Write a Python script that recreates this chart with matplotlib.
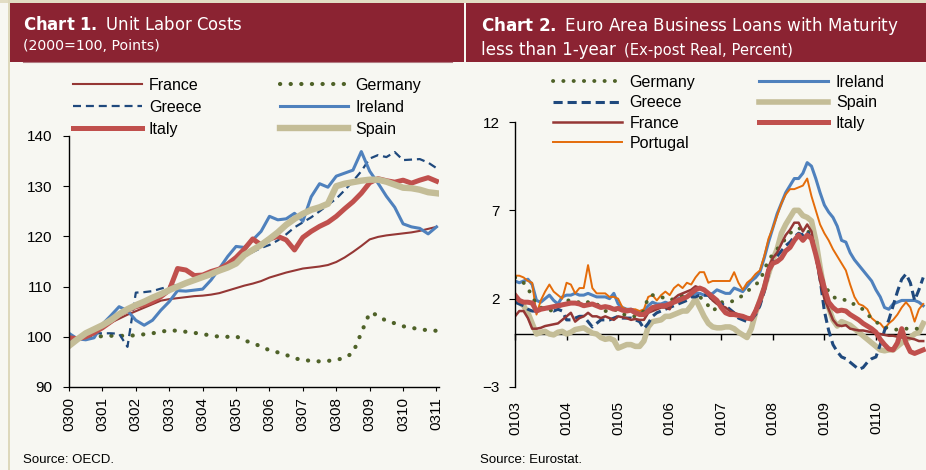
import matplotlib.pyplot as plt
from matplotlib.patches import Rectangle
import numpy as np

# ---- Chart 1: unit labor costs, quarterly, 2000=100 ----
ulc_ticks = ["0300", "0301", "0302", "0303", "0304", "0305",
             "0306", "0307", "0308", "0309", "0310", "0311"]
france_ulc = [99.0, 99.5, 100.0, 100.5, 101.8, 102.8, 103.6, 104.4, 105.1, 105.8,
              106.5, 107.2, 107.5, 107.7, 107.9, 108.1, 108.2, 108.4, 108.7, 109.2,
              109.7, 110.2, 110.6, 111.1, 111.8, 112.3, 112.8, 113.2, 113.6, 113.8,
              114.0, 114.3, 114.9, 115.8, 116.9, 118.1, 119.4, 119.9, 120.2, 120.4,
              120.6, 120.8, 121.1, 121.5, 121.9]
germany_ulc = [99.6, 99.9, 100.0, 100.1, 100.1, 100.2, 100.2, 100.2, 100.3, 100.5,
               100.7, 101.0, 101.3, 101.2, 101.0, 100.8, 100.5, 100.3, 100.0, 100.0,
               100.1, 99.3, 98.7, 98.1, 97.3, 96.9, 96.4, 95.7, 95.4, 95.2,
               95.1, 95.2, 95.4, 95.8, 96.8, 100.8, 104.8, 104.3, 103.1, 102.7,
               102.1, 101.8, 101.5, 101.3, 101.2]
greece_ulc = [99.4, 99.9, 100.3, 100.7, 100.7, 100.7, 100.6, 98.0, 108.8, 108.9,
              109.1, 109.6, 110.0, 110.3, 110.7, 111.2, 112.0, 112.7, 113.4, 114.2,
              115.1, 116.0, 116.9, 117.7, 118.3, 119.2, 120.4, 121.8, 122.8, 123.8,
              125.0, 126.3, 127.5, 129.2, 131.0, 133.0, 135.5, 136.2, 135.8, 136.8,
              135.2, 135.3, 135.4, 134.7, 133.6]
ireland_ulc = [100.7, 99.6, 99.4, 99.8, 102.5, 104.2, 106.0, 105.2, 103.3, 102.3,
               103.3, 105.3, 107.0, 109.2, 109.1, 109.3, 109.5, 111.3, 113.6, 116.0,
               118.0, 117.8, 119.3, 121.0, 124.0, 123.3, 123.5, 124.6, 123.0, 127.9,
               130.5, 129.8, 132.0, 132.6, 133.2, 136.9, 133.0, 130.6, 128.0, 125.8,
               122.5, 121.9, 121.6, 120.5, 121.9]
italy_ulc = [99.8, 99.6, 100.0, 100.8, 101.8, 103.0, 104.3, 105.3, 106.0, 106.4,
             107.0, 108.0, 109.3, 113.6, 113.3, 112.2, 112.3, 113.0, 113.5, 114.5,
             115.8, 117.5, 119.5, 118.3, 119.5, 120.0, 119.3, 117.3, 119.8, 121.0,
             122.0, 122.8, 124.0, 125.5, 126.9, 128.6, 130.7, 131.5, 131.1, 130.8,
             131.2, 130.6, 131.2, 131.7, 131.0]
spain_ulc = [98.2, 99.5, 100.7, 101.5, 102.3, 103.3, 104.5, 105.5, 106.3, 107.0,
             107.8, 108.5, 109.3, 110.0, 110.7, 111.3, 111.9, 112.5, 113.2, 113.8,
             114.6, 116.3, 117.3, 118.3, 119.5, 120.8, 122.3, 123.5, 124.5, 125.3,
             125.8, 126.5, 130.0, 130.5, 130.8, 131.1, 131.3, 131.3, 130.9, 130.3,
             129.7, 129.6, 129.3, 128.8, 128.6]

# ---- Chart 2: real rates on short business loans, monthly, percent ----
loan_ticks = ["0103", "0104", "0105", "0106", "0107", "0108", "0109", "0110"]
germany_loan = [3.2, 3.1, 2.9, 2.6, 2.1, 1.7, 1.5, 1.4, 1.3, 1.4, 1.5, 1.7,
                1.9, 1.9, 1.8, 1.8, 1.9, 1.8, 1.7, 1.7, 1.5, 1.3, 1.3, 1.4,
                1.3, 1.1, 1.1, 1.0, 1.0, 1.1, 1.3, 2.1, 2.2, 2.2, 2.1, 2.0,
                1.9, 2.0, 2.1, 2.2, 2.3, 2.3, 2.2, 2.1, 1.9, 1.6, 1.3, 1.5,
                1.8, 1.8, 1.8, 1.9, 2.0, 2.2, 2.4, 2.6, 2.8, 3.0, 3.6, 4.2,
                4.5, 4.8, 5.1, 5.4, 5.7, 5.9, 6.0, 5.9, 5.9, 5.5, 4.5, 3.5,
                2.8, 2.4, 2.1, 2.0, 2.0, 1.9, 1.7, 1.7, 1.5, 1.4, 1.1, 0.9,
                0.7, 0.5, 0.4, 0.3, 0.25, 0.25, 0.3, 0.3, 0.3, 0.3, 0.3, 0.3]
greece_loan = [1.8, 1.7, 1.6, 1.4, 1.3, 1.3, 1.4, 1.5, 1.4, 1.3, 1.4, 1.3,
               0.8, 0.8, 0.9, 1.0, 1.0, 0.7, 0.4, 0.6, 0.8, 0.8, 0.8, 0.9,
               1.0, 0.9, 0.9, 0.9, 0.8, 0.7, 0.3, 0.6, 1.0, 1.2, 1.3, 1.4,
               1.5, 1.6, 1.7, 1.8, 1.9, 2.1, 2.1, 2.2, 2.2, 2.2, 1.9, 1.8,
               1.7, 1.6, 1.4, 1.2, 0.9, 0.8, 0.7, 0.8, 1.1, 1.6, 2.4, 3.4,
               4.1, 4.4, 4.7, 5.0, 5.2, 5.5, 5.7, 5.6, 5.8, 5.4, 4.5, 3.1,
               1.3, 0.2, -0.6, -1.0, -1.3, -1.4, -1.6, -1.8, -2.0, -1.9, -1.6, -1.4,
               -1.3, -0.6, 0.2, 0.8, 1.6, 2.4, 3.1, 3.4, 2.9, 1.9, 2.5, 3.2]
france_loan = [1.0, 1.3, 1.3, 0.9, 0.3, 0.3, 0.35, 0.45, 0.5, 0.55, 0.6, 0.8,
               1.0, 1.2, 0.7, 0.9, 1.0, 1.2, 1.0, 1.0, 0.9, 1.0, 0.9, 0.8,
               1.0, 0.95, 0.9, 0.8, 0.85, 0.8, 0.8, 1.2, 1.3, 1.4, 1.5, 1.5,
               1.4, 2.0, 2.2, 2.3, 2.4, 2.5, 2.7, 2.6, 2.5, 2.2, 1.9, 1.7,
               1.6, 1.5, 1.3, 1.2, 1.1, 1.0, 0.95, 0.9, 1.4, 2.0, 2.8, 3.8,
               4.3, 4.6, 5.1, 5.6, 5.9, 6.3, 6.3, 5.8, 6.2, 5.8, 4.4, 3.0,
               2.0, 1.4, 0.8, 0.5, 0.45, 0.5, 0.3, 0.25, 0.2, 0.2, 0.15, 0.1,
               0.05, 0.0, -0.05, -0.1, -0.1, -0.15, -0.2, -0.2, -0.25, -0.3, -0.4, -0.4]
portugal_loan = [3.3, 3.3, 3.2, 3.0, 2.9, 1.1, 1.9, 2.4, 2.8, 2.4, 2.2, 2.0,
                 2.9, 2.8, 2.3, 2.6, 2.6, 3.9, 2.6, 2.3, 2.3, 2.3, 2.1, 2.1,
                 2.0, 1.5, 1.4, 1.4, 1.4, 1.3, 1.4, 2.1, 2.2, 1.9, 2.2, 2.4,
                 2.2, 2.6, 2.8, 2.6, 2.9, 2.8, 3.2, 3.5, 3.5, 2.9, 3.0, 3.0,
                 3.0, 3.0, 3.0, 3.5, 2.9, 2.5, 2.9, 3.1, 3.4, 3.6, 4.4, 5.4,
                 6.0, 6.7, 7.4, 7.9, 8.2, 8.2, 8.3, 8.4, 8.8, 7.8, 7.0, 6.2,
                 5.7, 5.3, 4.8, 4.4, 4.0, 3.6, 2.8, 2.1, 1.7, 1.6, 1.4, 0.9,
                 0.7, 0.6, 0.3, 0.6, 0.8, 1.1, 1.5, 1.8, 1.5, 0.7, 1.4, 1.7]
ireland_loan = [3.0, 2.9, 3.0, 3.1, 2.8, 1.9, 1.8, 2.0, 2.2, 1.9, 1.7, 2.1,
                2.2, 2.2, 2.3, 2.2, 2.2, 2.3, 2.2, 2.1, 2.1, 2.1, 2.0, 2.3,
                1.7, 1.5, 1.4, 1.4, 1.3, 1.2, 1.3, 1.6, 1.8, 1.7, 1.7, 1.8,
                1.7, 1.8, 2.0, 2.1, 2.1, 2.2, 2.3, 2.3, 2.2, 2.2, 2.3, 2.5,
                2.4, 2.3, 2.3, 2.6, 2.5, 2.4, 2.7, 3.0, 3.2, 3.5, 4.3, 5.2,
                6.0, 6.8, 7.4, 8.0, 8.4, 8.8, 8.8, 9.1, 9.7, 9.5, 8.8, 8.0,
                7.3, 6.9, 6.6, 6.1, 5.3, 5.2, 4.6, 4.2, 3.9, 3.6, 3.3, 3.0,
                2.5, 2.1, 1.5, 1.4, 1.7, 1.8, 1.9, 1.9, 1.9, 1.9, 1.8, 1.6]
spain_loan = [1.9, 1.8, 1.6, 1.2, 0.6, 0.0, 0.1, 0.15, 0.0, -0.05, 0.1, 0.15,
              0.0, 0.1, 0.25, 0.3, 0.35, 0.2, 0.05, 0.0, -0.2, -0.3, -0.25, -0.35,
              -0.8, -0.7, -0.6, -0.6, -0.7, -0.7, -0.4, 0.4, 0.7, 0.75, 0.8, 1.0,
              1.0, 1.1, 1.2, 1.3, 1.3, 1.6, 2.0, 1.5, 1.0, 0.6, 0.4, 0.35,
              0.35, 0.4, 0.4, 0.3, 0.1, -0.05, -0.2, 0.3, 1.2, 1.9, 2.6, 3.4,
              4.2, 4.8, 5.7, 6.2, 6.6, 7.0, 7.0, 6.7, 6.6, 6.4, 5.3, 3.8,
              2.4, 1.5, 0.8, 0.45, 0.7, 0.6, 0.5, 0.3, 0.1, -0.1, -0.3, -0.5,
              -0.7, -0.9, -0.95, -0.9, -0.9, -0.7, -0.5, -0.3, -0.2, 0.0, 0.1, 0.6]
italy_loan = [2.2, 1.9, 1.8, 1.8, 1.75, 1.3, 1.4, 1.45, 1.5, 1.55, 1.6, 1.65,
              1.7, 1.75, 1.75, 1.7, 1.6, 1.65, 1.7, 1.6, 1.5, 1.55, 1.5, 1.4,
              1.45, 1.35, 1.3, 1.35, 1.2, 1.1, 1.1, 1.3, 1.5, 1.55, 1.6, 1.6,
              1.7, 1.8, 1.9, 2.0, 2.1, 2.3, 2.5, 2.6, 2.5, 2.3, 2.1, 1.9,
              1.5, 1.2, 1.1, 1.1, 1.05, 1.0, 0.9, 0.85, 1.3, 1.9, 2.6, 3.6,
              4.0, 4.1, 4.3, 4.7, 4.9, 5.3, 5.6, 5.3, 5.6, 5.4, 4.5, 3.5,
              2.6, 1.8, 1.5, 1.3, 1.35, 1.3, 1.1, 0.95, 0.8, 0.6, 0.45, 0.3,
              0.1, -0.3, -0.6, -0.85, -0.9, -0.5, 0.3, -0.5, -1.0, -1.1, -1.0, -0.9]

# colours
bg = '#f7f7f2'
band = '#8b2332'
c_france = '#953735'
c_germany = '#4f6228'
c_greece = '#1f497d'
c_ireland = '#4f81bd'
c_italy = '#c0504d'
c_spain = '#c4bd97'
c_portugal = '#e46c0a'

plt.rcParams['font.family'] = ['Liberation Sans', 'DejaVu Sans']

W, H = 926, 470
fig = plt.figure(figsize=(W / 100, H / 100), dpi=100, facecolor=bg)


def fx(px):
    return px / W


def fy(py):
    return 1 - py / H


# page decoration: beige borders and the two red header bands
fig.add_artist(Rectangle((0, fy(3)), 1, 3 / H, transform=fig.transFigure,
                         color='#e2ddc4', lw=0, zorder=0))
fig.add_artist(Rectangle((fx(7.5), 0), 2.5 / W, 1, transform=fig.transFigure,
                         color='#ddd8bc', lw=0, zorder=0))
fig.add_artist(Rectangle((fx(10), fy(62)), 454 / W, 59 / H, transform=fig.transFigure,
                         color=band, lw=0, zorder=0))
fig.add_artist(Rectangle((fx(466), fy(62)), 460 / W, 59 / H, transform=fig.transFigure,
                         color=band, lw=0, zorder=0))
fig.add_artist(plt.Line2D([fx(23), fx(452)], [fy(62), fy(62)], transform=fig.transFigure,
                          color='#b27a82', lw=0.8))

title_kw = dict(color='white', family='DejaVu Sans', va='baseline')
fig.text(fx(23), fy(30), r'$\bf{Chart\ 1.}$ Unit Labor Costs', size=11.9, **title_kw)
fig.text(fx(23), fy(49.5), '(2000=100, Points)', size=10.2, **title_kw)
fig.text(fx(481), fy(31), r'$\bf{Chart\ 2.}$ Euro Area Business Loans with Maturity',
         size=12.1, **title_kw)
fig.text(fx(481), fy(55), 'less than 1-year', size=12.1, **title_kw)
fig.text(fx(624), fy(55), '(Ex-post Real, Percent)', size=10.6, **title_kw)

fig.text(fx(23), fy(460), 'Source: OECD.', size=9.5, va='center')
fig.text(fx(480), fy(460), 'Source: Eurostat.', size=9.5, va='center')

# ---------------- Chart 1 ----------------
ax1 = fig.add_axes([fx(69), fy(387), 370 / W, 251 / H])
ax1.set_facecolor(bg)
q = np.arange(len(france_ulc))

l_fr, = ax1.plot(q, france_ulc, color=c_france, lw=1.5, label='France')
l_de, = ax1.plot(q, germany_ulc, color=c_germany, lw=3.0,
                 linestyle=(0, (0.05, 2.5)), dash_capstyle='round', label='Germany')
l_gr, = ax1.plot(q, greece_ulc, color=c_greece, lw=1.6,
                 linestyle=(0, (3.6, 2.2)), label='Greece')
l_ie, = ax1.plot(q, ireland_ulc, color=c_ireland, lw=2.2, label='Ireland')
l_it, = ax1.plot(q, italy_ulc, color=c_italy, lw=3.6, label='Italy')
l_es, = ax1.plot(q, spain_ulc, color=c_spain, lw=4.6, label='Spain')

ax1.set_xlim(0, 44.3)
ax1.set_ylim(90, 140)
ax1.set_yticks(np.arange(90, 141, 10))
ax1.set_xticks(np.arange(0, 45, 4))
ax1.set_xticklabels(ulc_ticks, rotation=90)
for s in ['top', 'right']:
    ax1.spines[s].set_visible(False)
for s in ['left', 'bottom']:
    ax1.spines[s].set_linewidth(1)
ax1.tick_params(axis='y', length=4, pad=8, labelsize=11)
ax1.tick_params(axis='x', length=3, pad=4, labelsize=11)

fig.legend([l_fr, l_gr, l_it, l_de, l_ie, l_es],
           ['France', 'Greece', 'Italy', 'Germany', 'Ireland', 'Spain'],
           ncol=2, loc='upper left', bbox_to_anchor=(fx(73), fy(78)),
           frameon=False, fontsize=11.5, borderpad=0, borderaxespad=0,
           handlelength=4.3, handletextpad=0.45, columnspacing=4.9,
           labelspacing=0.43)

# ---------------- Chart 2 ----------------
ax2 = fig.add_axes([fx(515), fy(387), 412.5 / W, 265 / H])
ax2.set_facecolor(bg)
m = np.arange(len(germany_loan))

k_es, = ax2.plot(m, spain_loan, color=c_spain, lw=4.0, label='Spain')
k_ie, = ax2.plot(m, ireland_loan, color=c_ireland, lw=2.2, label='Ireland')
k_pt, = ax2.plot(m, portugal_loan, color=c_portugal, lw=1.4, label='Portugal')
k_de, = ax2.plot(m, germany_loan, color=c_germany, lw=2.8,
                 linestyle=(0, (0.05, 2.6)), dash_capstyle='round', label='Germany')
k_gr, = ax2.plot(m, greece_loan, color=c_greece, lw=2.2,
                 linestyle=(0, (3.0, 1.6)), label='Greece')
k_fr, = ax2.plot(m, france_loan, color=c_france, lw=1.8, label='France')
k_it, = ax2.plot(m, italy_loan, color=c_italy, lw=3.6, label='Italy')

ax2.set_xlim(0, 96)
ax2.set_ylim(-3, 12)
ax2.set_yticks([-3, 2, 7, 12])
ax2.set_xticks(np.arange(0, 96, 12))
ax2.set_xticklabels(loan_ticks, rotation=90)
for s in ['top', 'right', 'bottom']:
    ax2.spines[s].set_visible(False)
ax2.spines['left'].set_linewidth(1)
ax2.tick_params(axis='y', length=4, pad=7, labelsize=11)
ax2.tick_params(axis='x', length=0, pad=10, labelsize=11)

# zero line with tick marks
zero_axis = ax2.secondary_xaxis(0.2)
zero_axis.set_xticks(np.arange(0, 96, 12))
zero_axis.set_xticklabels([])
zero_axis.tick_params(axis='x', direction='out', length=4, width=1)
zero_axis.spines['bottom'].set_linewidth(1)

fig.legend([k_de, k_gr, k_fr, k_pt, k_ie, k_es, k_it],
           ['Germany', 'Greece', 'France', 'Portugal', 'Ireland', 'Spain', 'Italy'],
           ncol=2, loc='upper left', bbox_to_anchor=(fx(553), fy(75)),
           frameon=False, fontsize=11.5, borderpad=0, borderaxespad=0,
           handlelength=4.3, handletextpad=0.5, columnspacing=4.0,
           labelspacing=0.33)

fig.savefig('out.png', dpi=100, facecolor=bg)
